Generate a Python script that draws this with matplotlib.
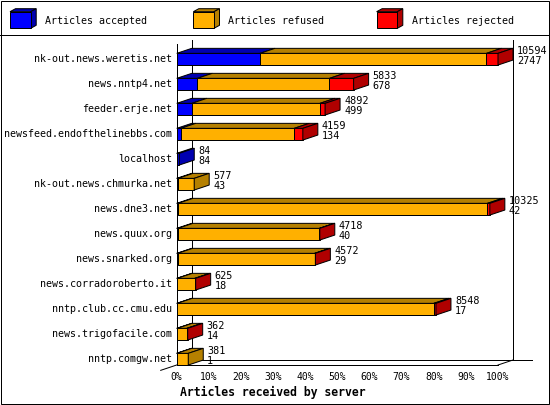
import matplotlib
matplotlib.use("Agg")
import matplotlib.pyplot as plt
from matplotlib.patches import Polygon, Rectangle

# data
servers = [
    "nk-out.news.weretis.net", "news.nntp4.net", "feeder.erje.net",
    "newsfeed.endofthelinebbs.com", "localhost", "nk-out.news.chmurka.net",
    "news.dne3.net", "news.quux.org", "news.snarked.org",
    "news.corradoroberto.it", "nntp.club.cc.cmu.edu", "news.trigofacile.com",
    "nntp.comgw.net",
]
totals = [10594, 5833, 4892, 4159, 84, 577, 10325, 4718, 4572, 625, 8548, 362, 381]
accepted = [2747, 678, 499, 134, 84, 43, 42, 40, 29, 18, 17, 14, 1]
refused = [7467, 4360, 4223, 3740, 0, 534, 10203, 4666, 4518, 577, 8461, 318, 380]
rejected = [380, 795, 170, 285, 0, 0, 80, 12, 25, 30, 70, 30, 0]

series_names = ["Articles accepted", "Articles refused", "Articles rejected"]
face_colors = ["#0000FF", "#FFB000", "#FF0000"]
shade_colors = ["#0000B0", "#B58000", "#B00000"]

pct_ticks = list(range(0, 101, 10))

W, H = 550, 405
MONO = "DejaVu Sans Mono"
LW = 0.72  # one pixel at 100 dpi

fig = plt.figure(figsize=(W / 100, H / 100), dpi=100)

# full-figure axes in pixel units for frame and legend
bg = fig.add_axes([0, 0, 1, 1])
bg.set_xlim(0, W)
bg.set_ylim(H, 0)
bg.axis("off")
bg.add_patch(Rectangle((0.5, 0.5), W - 1.5, H - 1.5, fill=False, ec="black", lw=LW))
bg.plot([0, W], [34.5, 34.5], color="black", lw=LW)

# legend cubes
for k, name in enumerate(series_names):
    x0 = 10 + 183.3 * k
    y0, y1 = 11.7, 28.3
    x1 = x0 + 20.7
    ddx, ddy = 5.5, 3
    bg.add_patch(Polygon([(x0, y0), (x1, y0), (x1 + ddx, y0 - ddy), (x0 + ddx, y0 - ddy)],
                         closed=True, fc=shade_colors[k], ec="black", lw=LW))
    bg.add_patch(Polygon([(x1, y0), (x1 + ddx, y0 - ddy), (x1 + ddx, y1 - ddy), (x1, y1)],
                         closed=True, fc=shade_colors[k], ec="black", lw=LW))
    bg.add_patch(Rectangle((x0, y0), x1 - x0, y1 - y0, fc=face_colors[k], ec="black", lw=LW))
    bg.text(x0 + 35, 20.7, name, family=MONO, fontsize=7.2, va="center", ha="left")

# main plot axes: x in percent, y in row index
px_left, px_right = 176.7, 498.0
row0, pitch = 59.2, 25.0
y_top_px, y_bot_px = 40.0, 365.0
ax = fig.add_axes([px_left / W, 1 - y_bot_px / H,
                   (px_right - px_left) / W, (y_bot_px - y_top_px) / H])
ax.patch.set_visible(False)
ymax = (y_bot_px - row0) / pitch
ymin = (y_top_px - row0) / pitch
ax.set_xlim(0, 100)
ax.set_ylim(ymax, ymin)
for s in ax.spines.values():
    s.set_visible(False)
ax.set_yticks([])
ax.set_xticks(pct_ticks)
ax.set_xticklabels([f"{t}%" for t in pct_ticks], family=MONO, fontsize=7.0)
ax.tick_params(axis="x", length=0, pad=5)

ppu = (px_right - px_left) / 100.0
dx = 15 / ppu
dy = 5 / pitch
bh = 11.7 / pitch
floor_back = ymax - dy

line_kw = dict(color="black", lw=LW, clip_on=False)
ax.plot([dx, dx], [ymin, floor_back], **line_kw)
ax.plot([100 + dx, 100 + dx], [ymin, floor_back], **line_kw)
ax.plot([0, 0], [(44 - row0) / pitch, ymax], **line_kw)
ax.plot([dx, (531.7 - px_left) / ppu], [floor_back, floor_back], **line_kw)
ax.plot([0, 100], [ymax, ymax], **line_kw)
ax.plot([dx, -16 / ppu], [floor_back, ymax + dy * 16 / 15], **line_kw)
ax.plot([100, 100 + dx], [ymax, floor_back], **line_kw)

vmax = max(totals)
for i, name in enumerate(servers):
    vals = [accepted[i], refused[i], rejected[i]]
    top, bot = i - bh / 2, i + bh / 2
    left = 0.0
    last = None
    for k, v in enumerate(vals):
        if v <= 0:
            continue
        w = v / vmax * 100
        x0, x1 = left, left + w
        ax.add_patch(Rectangle((x0, top), w, bh, fc=face_colors[k], ec="black",
                               lw=LW, clip_on=False, zorder=3))
        ax.add_patch(Polygon([(x0, top), (x1, top), (x1 + dx, top - dy), (x0 + dx, top - dy)],
                             closed=True, fc=shade_colors[k], ec="black", lw=LW,
                             clip_on=False, zorder=3))
        left = x1
        last = k
    if last is not None:
        ax.add_patch(Polygon([(left, top), (left + dx, top - dy), (left + dx, bot - dy), (left, bot)],
                             closed=True, fc=shade_colors[last], ec="black", lw=LW,
                             clip_on=False, zorder=3))
    ax.text(-4.7 / ppu, i, name, family=MONO, fontsize=7.2, ha="right", va="center",
            clip_on=False)
    lx = totals[i] / vmax * 100 + 19 / ppu
    ax.text(lx, i - 8.3 / pitch, str(totals[i]), family=MONO, fontsize=7.3,
            ha="left", va="center", clip_on=False, zorder=4)
    ax.text(lx, i + 2.2 / pitch, str(accepted[i]), family=MONO, fontsize=7.3,
            ha="left", va="center", clip_on=False, zorder=4)

fig.text(180 / W, 1 - 392 / H, "Articles received by server", family=MONO,
         fontsize=8.3, fontweight="bold", ha="left", va="center")

fig.savefig("out.png", dpi=100)
